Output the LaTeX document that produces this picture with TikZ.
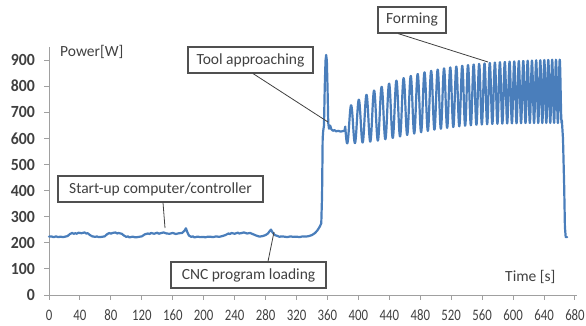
\documentclass[tikz,border=0pt]{standalone}
\usepackage{fontspec}
\setmainfont{Carlito}
\newfontfamily\xtickfont[FakeStretch=0.8]{Carlito}
\newfontfamily\ytickfont[FakeStretch=0.93]{Carlito}
\definecolor{curveblue}{RGB}{74,126,187}
\definecolor{axisgray}{RGB}{160,160,160}
\definecolor{txtgray}{RGB}{64,64,64}
\definecolor{boxgray}{RGB}{80,80,80}
\begin{document}
\begin{tikzpicture}[x=1pt,y=-1pt,
  annot/.style={draw=boxgray, line width=1.1pt, fill=white, text=txtgray,
    font=\fontsize{15.5}{18}\selectfont, inner xsep=0pt, inner ysep=0pt,
    minimum height=26pt, align=center},
  lbl/.style={text=txtgray, font=\fontsize{15.5}{18}\selectfont, inner sep=0pt},
  ytick/.style={text=txtgray, font=\ytickfont\bfseries\fontsize{17}{20}\selectfont, inner sep=0pt, anchor=base east},
  xtick/.style={text=txtgray, font=\xtickfont\fontsize{16}{19}\selectfont, inner sep=0pt, anchor=base},
  leader/.style={draw=txtgray, line width=0.8pt},
  axisline/.style={draw=axisgray, line width=1pt},
  curve/.style={draw=curveblue, line width=2.2pt, line join=round, line cap=round},
  declare function={
    upv(\t)=910-200*exp(-(\t-383)/80);
    lov(\t)=660-78*exp(-((\t-383)/110)^2);
    ph(\t)=36*(\t-383)+((\t-383)*0.05531)^3;
  }]
\useasboundingbox (0,0) rectangle (586,326);

% axes
\draw[axisline] (49,47) -- (49,295) -- (577,295);
\foreach \v in {0,100,...,900}{
  \draw[axisline] (44,{295-0.2606*\v}) -- (49,{295-0.2606*\v});
  \node[ytick] (yt\v) at (35,{300.4-0.2606*\v}) {\v};
}
\foreach \v in {0,40,...,680}{
  \draw[axisline] ({49+0.7735*\v},295) -- ({49+0.7735*\v},300);
  \node[xtick] (xt\v) at ({49+0.7735*\v},320.5) {\v};
}
\node[lbl, anchor=base west] (ylabel) at (60,57) {Power[W]};
\node[lbl, anchor=base west] (xlabel) at (505,281) {Time [s]};

% data curve
\begin{scope}[shift={(49,295)}, x=0.7735pt, y=0.2606pt]
\draw[curve] (0,224) -- (3,225) -- (6,222) -- (9,225) -- (12,222) -- (15,224) -- (18,222) -- (21,224) -- (24,226) -- (27,234) -- (30,238) -- (32,235) -- (34,237) -- (36,235) -- (38,239) -- (42,237) -- (46,240) -- (48,236) -- (50,237) -- (53,230) -- (56,225) -- (60,223) -- (62,225) -- (64,222) -- (68,223) -- (72,225) -- (75,233) -- (78,238) -- (80,235) -- (82,238) -- (86,240) -- (88,236) -- (90,238) -- (94,235) -- (97,228) -- (100,223) -- (102,225) -- (104,221) -- (108,224) -- (112,221) -- (116,223) -- (120,225) -- (124,233) -- (128,236) -- (130,234) -- (132,238) -- (136,235) -- (140,239) -- (142,235) -- (144,237) -- (148,240) -- (152,236) -- (156,235) -- (160,238) -- (164,234) -- (168,237) -- (172,238) -- (175,246) -- (177,256) -- (179,240) -- (181,228) -- (184,223) -- (186,225) -- (188,221) -- (192,224) -- (196,222) -- (200,223) -- (202,221) -- (204,223) -- (208,224) -- (212,222) -- (216,225) -- (220,223) -- (224,226) -- (228,230) -- (232,236) -- (234,234) -- (236,238) -- (240,235) -- (244,239) -- (246,236) -- (248,237) -- (252,240) -- (256,236) -- (260,238) -- (264,233) -- (268,228) -- (272,224) -- (276,226) -- (280,230) -- (283,236) -- (285,244) -- (287,251) -- (289,240) -- (292,230) -- (296,226) -- (298,223) -- (300,225) -- (304,224) -- (308,222) -- (312,225) -- (316,223) -- (320,224) -- (324,222) -- (328,225) -- (332,224) -- (336,226) -- (340,230) -- (344,238) -- (347,248) -- (350,262) -- (352,275) -- (353,380) -- (353.8,600) -- (354.5,630) -- (355.5,650) -- (356.5,800) -- (357.5,900) -- (358.3,921) -- (359.2,900) -- (360.2,780) -- (361,660) -- (362,638) -- (363.5,650) -- (365,636) -- (367,630) -- (369,633) -- (371,628) -- (374,630) -- (377,627) -- (380,629) -- (382,630)
 -- plot[domain=383:663, samples=1100, variable=\t] (\t, {(upv(\t)+lov(\t))/2-(upv(\t)-lov(\t))/2*sin(ph(\t))})
 -- (664.5,600) -- (666,420) -- (667,260) -- (668,222) -- (670,222);
\end{scope}

% annotation points
\coordinate (toolpt) at (328,122);
\coordinate (formpt) at (488,62);
\coordinate (startpt) at (165,228);
\coordinate (cncpt) at (274,232);

% annotation boxes
\node[annot, minimum width=125pt] (toolbox) at (250.5,60) {Tool approaching};
\node[annot, minimum width=68pt] (formbox) at (412,20) {Forming};
\node[annot, minimum width=205pt] (startbox) at (160.5,189) {Start-up computer/controller};
\node[annot, minimum width=155pt] (cncbox) at (248.5,275) {CNC program loading};

\draw[leader] ([xshift=2.5pt]toolbox.south) -- (toolpt);
\draw[leader] ([xshift=-14pt]formbox.south) -- (formpt);
\draw[leader] ([xshift=2.5pt]startbox.south) -- (startpt);
\draw[leader] ([xshift=19.5pt]cncbox.north) -- (cncpt);
\end{tikzpicture}
\end{document}
